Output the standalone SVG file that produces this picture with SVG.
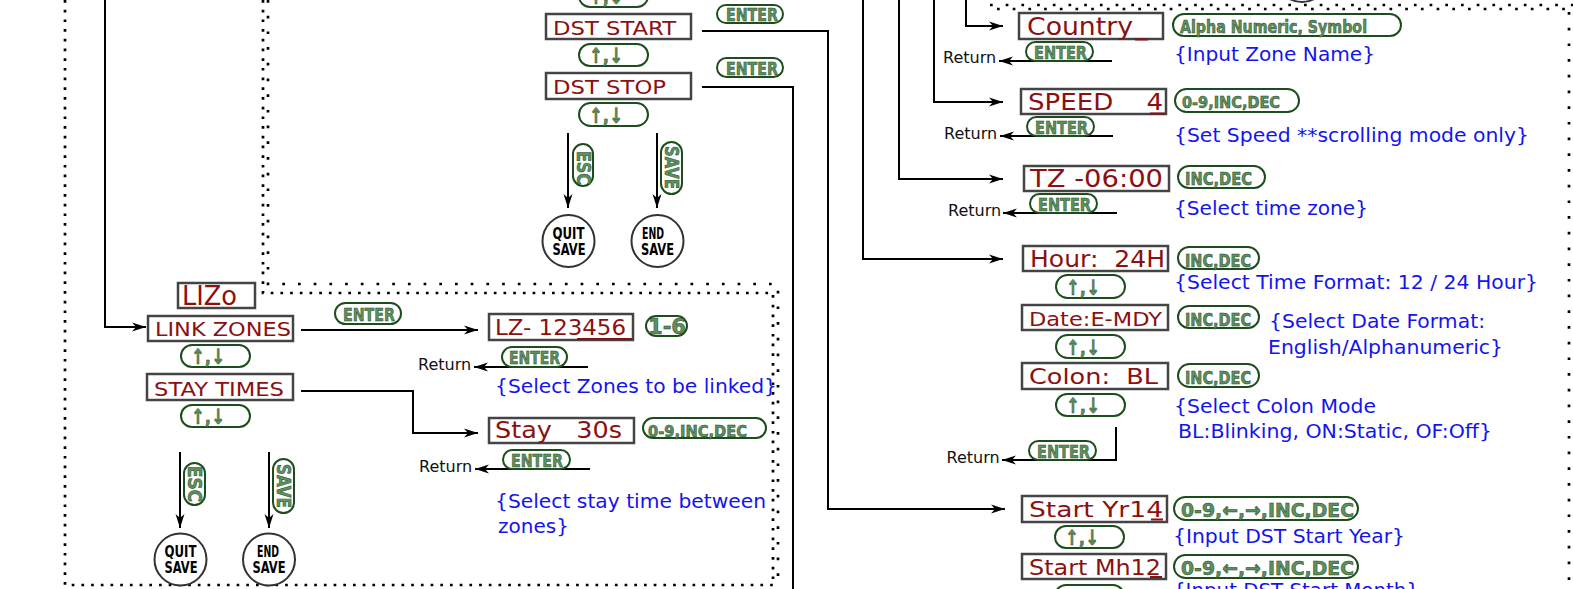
<svg xmlns="http://www.w3.org/2000/svg" width="1573" height="589" viewBox="0 0 1573 589">
<defs>
<style>
.box{fill:#fff;stroke:#444;stroke-width:2.5}
.bt{font-family:"DejaVu Sans",sans-serif;fill:#8b1010;white-space:pre}
.pill{fill:#fff;stroke:#1d4d1d;stroke-width:2}
.pt{font-family:"DejaVu Sans Condensed","DejaVu Sans",sans-serif;font-weight:bold;fill:#5f8f5f;stroke:#1a4a1a;stroke-width:0.5}
.ar{font-family:"DejaVu Sans",sans-serif;font-weight:bold;fill:#5f8f5f;stroke:#1a4a1a;stroke-width:0.5}
.bl{font-family:"DejaVu Sans",sans-serif;font-size:20px;fill:#1414ee}
.ret{font-family:"DejaVu Sans",sans-serif;font-size:16px;fill:#111}
.ln{fill:none;stroke:#000;stroke-width:2}
.circ{fill:#fff;stroke:#333;stroke-width:2}
.ct{font-family:"DejaVu Sans Condensed","DejaVu Sans",sans-serif;font-weight:bold;font-size:15px;fill:#000}
.dd{fill:none;stroke:#000;stroke-width:2.7;stroke-dasharray:2.7 7}
.ds{fill:none;stroke:#000;stroke-width:2.7;stroke-dasharray:2.7 13}
.cur{stroke:#8b1010;stroke-width:2}
</style>
<marker id="ah" markerWidth="14" markerHeight="10" refX="14" refY="5" orient="auto" markerUnits="userSpaceOnUse"><path d="M0,0.5 L14,5 L0,9.5 L4,5 z" fill="#000"/></marker>
</defs>
<rect width="1573" height="589" fill="#fff"/>

<g id="borders">
<path class="dd" d="M65,0 V585 H776"/>
<path class="dd" d="M263,0 V293 H773 V585"/>
<path class="ds" d="M268,0 V284 H778 V585"/>
<path class="ds" d="M990,5 H1573"/>
<path class="ds" d="M997,9 H1573"/>
<path class="ds" d="M1569,12 V589"/>
</g>

<g id="connectors">
<path class="ln" d="M105,0 V327 H146" marker-end="url(#ah)"/>
<path class="ln" d="M702,31 H828 V509 H1005" marker-end="url(#ah)"/>
<path class="ln" d="M702,87 H793 V589"/>
<path class="ln" d="M863,0 V259 H1003" marker-end="url(#ah)"/>
<path class="ln" d="M899,0 V179 H1003" marker-end="url(#ah)"/>
<path class="ln" d="M934,0 V102 H1003" marker-end="url(#ah)"/>
<path class="ln" d="M966,0 V26 H1003" marker-end="url(#ah)"/>
<path class="ln" d="M1112,61 H999" marker-end="url(#ah)"/>
<path class="ln" d="M1113,136 H1000" marker-end="url(#ah)"/>
<path class="ln" d="M1117,213 H1003" marker-end="url(#ah)"/>
<path class="ln" d="M1116,427 V460 H1002" marker-end="url(#ah)"/>
<path class="ln" d="M588,367 H474" marker-end="url(#ah)"/>
<path class="ln" d="M590,469 H475" marker-end="url(#ah)"/>
<path class="ln" d="M301,330 H478" marker-end="url(#ah)"/>
<path class="ln" d="M301,391 H413 V433 H478" marker-end="url(#ah)"/>
<path class="ln" d="M568,133 V208" marker-end="url(#ah)"/>
<path class="ln" d="M657,133 V208" marker-end="url(#ah)"/>
<path class="ln" d="M180,452 V528" marker-end="url(#ah)"/>
<path class="ln" d="M269,452 V528" marker-end="url(#ah)"/>
</g>

<g id="top-partials">
<circle class="circ" cx="1302" cy="-24" r="26"/>
<rect class="pill" x="579" y="-15" width="69" height="22" rx="11"/>
<text class="ar" x="589" y="4" font-size="21" textLength="34" lengthAdjust="spacingAndGlyphs">↑,↓</text>
</g>

<g id="dst-start">
<rect class="box" x="546" y="14" width="145" height="25"/>
<text class="bt" x="553" y="34.5" font-size="20" textLength="123" lengthAdjust="spacingAndGlyphs">DST START</text>
</g>
<g id="enter-dst-start"><rect class="pill" x="717" y="5" width="66" height="18" rx="9"/><text class="pt" x="726" y="21" font-size="18" textLength="52" lengthAdjust="spacingAndGlyphs">ENTER</text></g>
<g id="ud-1"><rect class="pill" x="579" y="44" width="69" height="22" rx="11"/><text class="ar" x="589" y="63" font-size="21" textLength="34" lengthAdjust="spacingAndGlyphs">↑,↓</text></g>
<g id="dst-stop">
<rect class="box" x="546" y="73" width="145" height="26"/>
<text class="bt" x="553" y="94.3" font-size="20" textLength="113" lengthAdjust="spacingAndGlyphs">DST STOP</text>
</g>
<g id="enter-dst-stop"><rect class="pill" x="717" y="58" width="66" height="19" rx="9.5"/><text class="pt" x="726" y="75" font-size="18" textLength="52" lengthAdjust="spacingAndGlyphs">ENTER</text></g>
<g id="ud-2"><rect class="pill" x="579" y="103" width="69" height="23" rx="11.5"/><text class="ar" x="589" y="123" font-size="21" textLength="34" lengthAdjust="spacingAndGlyphs">↑,↓</text></g>
<g id="esc-1"><rect class="pill" x="573" y="144" width="20" height="42" rx="10"/><text class="pt" transform="translate(583,151) rotate(90)" x="0" y="6.5" font-size="19" textLength="34" lengthAdjust="spacingAndGlyphs">ESC</text></g>
<g id="save-1"><rect class="pill" x="661" y="142" width="21" height="52" rx="10.5"/><text class="pt" transform="translate(671.5,146) rotate(90)" x="0" y="6.5" font-size="19" textLength="43" lengthAdjust="spacingAndGlyphs">SAVE</text></g>
<g id="quit-1"><circle class="circ" cx="568.5" cy="241" r="26"/><text class="ct" x="568.5" y="239" text-anchor="middle" textLength="32" lengthAdjust="spacingAndGlyphs">QUIT</text><text class="ct" x="569" y="255" text-anchor="middle" textLength="33" lengthAdjust="spacingAndGlyphs">SAVE</text></g>
<g id="end-1"><circle class="circ" cx="657.5" cy="241" r="26"/><text class="ct" x="653" y="239" text-anchor="middle" textLength="22" lengthAdjust="spacingAndGlyphs">END</text><text class="ct" x="657.5" y="255" text-anchor="middle" textLength="33" lengthAdjust="spacingAndGlyphs">SAVE</text></g>

<g id="lizo">
<rect class="box" x="178" y="283" width="77" height="25"/>
<text class="bt" x="182" y="305" font-size="27" textLength="55" lengthAdjust="spacingAndGlyphs">LIZo</text>
</g>
<g id="link-zones">
<rect class="box" x="148" y="316" width="145" height="25"/>
<text class="bt" x="155" y="336" font-size="20" textLength="136" lengthAdjust="spacingAndGlyphs">LINK ZONES</text>
</g>
<g id="enter-lz"><rect class="pill" x="335" y="303" width="66" height="21" rx="10.5"/><text class="pt" x="343" y="321" font-size="18" textLength="52" lengthAdjust="spacingAndGlyphs">ENTER</text></g>
<g id="ud-3"><rect class="pill" x="181" y="345" width="69" height="22" rx="11"/><text class="ar" x="191" y="364" font-size="21" textLength="34" lengthAdjust="spacingAndGlyphs">↑,↓</text></g>
<g id="stay-times">
<rect class="box" x="147" y="374" width="146" height="26"/>
<text class="bt" x="154" y="395.5" font-size="20" textLength="130" lengthAdjust="spacingAndGlyphs">STAY TIMES</text>
</g>
<g id="ud-4"><rect class="pill" x="181" y="405" width="69" height="22" rx="11"/><text class="ar" x="191" y="424" font-size="21" textLength="34" lengthAdjust="spacingAndGlyphs">↑,↓</text></g>
<g id="esc-2"><rect class="pill" x="184" y="463" width="21" height="42" rx="10.5"/><text class="pt" transform="translate(194.5,466) rotate(90)" x="0" y="6.5" font-size="19" textLength="36" lengthAdjust="spacingAndGlyphs">ESC</text></g>
<g id="save-2"><rect class="pill" x="273" y="459" width="21" height="54" rx="10.5"/><text class="pt" transform="translate(283.5,464) rotate(90)" x="0" y="6.5" font-size="19" textLength="44" lengthAdjust="spacingAndGlyphs">SAVE</text></g>
<g id="quit-2"><circle class="circ" cx="180.5" cy="559.5" r="26"/><text class="ct" x="180.5" y="557" text-anchor="middle" textLength="32" lengthAdjust="spacingAndGlyphs">QUIT</text><text class="ct" x="181" y="573" text-anchor="middle" textLength="33" lengthAdjust="spacingAndGlyphs">SAVE</text></g>
<g id="end-2"><circle class="circ" cx="269" cy="559.5" r="26"/><text class="ct" x="268" y="557" text-anchor="middle" textLength="22" lengthAdjust="spacingAndGlyphs">END</text><text class="ct" x="269" y="573" text-anchor="middle" textLength="33" lengthAdjust="spacingAndGlyphs">SAVE</text></g>

<g id="lz-123456">
<rect class="box" x="489" y="314" width="144" height="26"/>
<line class="cur" x1="577" y1="339" x2="632" y2="339"/>
<text class="bt" x="495" y="335" font-size="21" textLength="131" lengthAdjust="spacingAndGlyphs">LZ- 123456</text>
</g>
<g id="p-1-6"><rect class="pill" x="646" y="316" width="41" height="20" rx="10"/><text class="pt" x="648" y="334" font-size="21" textLength="38" lengthAdjust="spacingAndGlyphs">1-6</text></g>
<g id="ret-lz"><text class="ret" x="418" y="369.5">Return</text><rect class="pill" x="502" y="347" width="65" height="20" rx="10"/><text class="pt" x="509" y="364" font-size="18" textLength="51" lengthAdjust="spacingAndGlyphs">ENTER</text></g>
<g id="desc-lz"><text class="bl" x="495" y="393.3" textLength="282" lengthAdjust="spacingAndGlyphs">{Select Zones to be linked}</text></g>
<g id="stay-30s">
<rect class="box" x="489" y="418" width="145" height="25"/>
<text class="bt" x="495" y="438.3" font-size="23" textLength="127" lengthAdjust="spacingAndGlyphs">Stay   30s</text>
</g>
<g id="p-stay"><rect class="pill" x="643" y="418" width="123" height="20" rx="10"/><text class="pt" x="648" y="436.5" font-size="16" textLength="99" lengthAdjust="spacingAndGlyphs">0-9,INC,DEC</text></g>
<g id="ret-stay"><text class="ret" x="419" y="472.3">Return</text><rect class="pill" x="503" y="450" width="67" height="19" rx="9.5"/><text class="pt" x="511" y="467" font-size="18" textLength="52" lengthAdjust="spacingAndGlyphs">ENTER</text></g>
<g id="desc-stay"><text class="bl" x="495" y="508.3" textLength="271" lengthAdjust="spacingAndGlyphs">{Select stay time between</text><text class="bl" x="498" y="533.3">zones}</text></g>

<g id="country">
<rect class="box" x="1019" y="13" width="144" height="26"/>
<line class="cur" x1="1135" y1="39.5" x2="1148" y2="39.5"/>
<text class="bt" x="1027" y="35" font-size="25" textLength="106" lengthAdjust="spacingAndGlyphs">Country</text>
</g>
<g id="p-alpha"><rect class="pill" x="1173" y="14" width="228" height="22" rx="11"/><text class="pt" x="1180" y="33" font-size="17" textLength="187" lengthAdjust="spacingAndGlyphs">Alpha Numeric, Symbol</text></g>
<g id="ret-country"><text class="ret" x="943" y="63">Return</text><rect class="pill" x="1026" y="42" width="67" height="19" rx="9.5"/><text class="pt" x="1034" y="59" font-size="18" textLength="53" lengthAdjust="spacingAndGlyphs">ENTER</text></g>
<text class="bl" x="1174" y="61" textLength="201" lengthAdjust="spacingAndGlyphs">{Input Zone Name}</text>

<g id="speed">
<rect class="box" x="1021" y="89" width="145" height="25"/>
<line class="cur" x1="1150" y1="113.5" x2="1165" y2="113.5"/>
<text class="bt" x="1028" y="110" font-size="23" textLength="135" lengthAdjust="spacingAndGlyphs">SPEED    4</text>
</g>
<g id="p-speed"><rect class="pill" x="1175" y="89" width="124" height="23" rx="11.5"/><text class="pt" x="1182" y="108" font-size="16" textLength="98" lengthAdjust="spacingAndGlyphs">0-9,INC,DEC</text></g>
<g id="ret-speed"><text class="ret" x="944" y="139.3">Return</text><rect class="pill" x="1027" y="117" width="67" height="19" rx="9.5"/><text class="pt" x="1035" y="134" font-size="18" textLength="53" lengthAdjust="spacingAndGlyphs">ENTER</text></g>
<text class="bl" x="1174" y="141.7" textLength="355" lengthAdjust="spacingAndGlyphs">{Set Speed **scrolling mode only}</text>

<g id="tz">
<rect class="box" x="1024" y="166" width="145" height="25"/>
<text class="bt" x="1030" y="186.7" font-size="24" textLength="133" lengthAdjust="spacingAndGlyphs">TZ -06:00</text>
</g>
<g id="p-tz"><rect class="pill" x="1178" y="166" width="87" height="22" rx="11"/><text class="pt" x="1185" y="185" font-size="17" textLength="67" lengthAdjust="spacingAndGlyphs">INC,DEC</text></g>
<g id="ret-tz"><text class="ret" x="948" y="216">Return</text><rect class="pill" x="1030" y="194" width="67" height="19" rx="9.5"/><text class="pt" x="1038" y="211" font-size="18" textLength="53" lengthAdjust="spacingAndGlyphs">ENTER</text></g>
<text class="bl" x="1174" y="215" textLength="194" lengthAdjust="spacingAndGlyphs">{Select time zone}</text>

<g id="hour">
<rect class="box" x="1023" y="246" width="145" height="25"/>
<text class="bt" x="1030" y="266.7" font-size="23" textLength="135" lengthAdjust="spacingAndGlyphs">Hour:  24H</text>
</g>
<g id="p-hour"><rect class="pill" x="1178" y="247" width="81" height="22" rx="11"/><text class="pt" x="1185" y="266.5" font-size="17" textLength="66" lengthAdjust="spacingAndGlyphs">INC,DEC</text></g>
<text class="bl" x="1174" y="289.3" textLength="364" lengthAdjust="spacingAndGlyphs">{Select Time Format: 12 / 24 Hour}</text>
<g id="ud-5"><rect class="pill" x="1056" y="275" width="69" height="23" rx="11.5"/><text class="ar" x="1066" y="295" font-size="21" textLength="34" lengthAdjust="spacingAndGlyphs">↑,↓</text></g>

<g id="date">
<rect class="box" x="1022" y="305" width="146" height="25"/>
<text class="bt" x="1029" y="325.7" font-size="20" textLength="133" lengthAdjust="spacingAndGlyphs">Date:E-MDY</text>
</g>
<g id="p-date"><rect class="pill" x="1178" y="306" width="81" height="22" rx="11"/><text class="pt" x="1185" y="325.5" font-size="17" textLength="66" lengthAdjust="spacingAndGlyphs">INC,DEC</text></g>
<text class="bl" x="1269" y="328.3" textLength="216" lengthAdjust="spacingAndGlyphs">{Select Date Format:</text>
<text class="bl" x="1268" y="354" textLength="235" lengthAdjust="spacingAndGlyphs">English/Alphanumeric}</text>
<g id="ud-6"><rect class="pill" x="1056" y="335" width="69" height="23" rx="11.5"/><text class="ar" x="1066" y="355" font-size="21" textLength="34" lengthAdjust="spacingAndGlyphs">↑,↓</text></g>

<g id="colon">
<rect class="box" x="1022" y="363" width="146" height="26"/>
<text class="bt" x="1029" y="384.3" font-size="22" textLength="129" lengthAdjust="spacingAndGlyphs">Colon:  BL</text>
</g>
<g id="p-colon"><rect class="pill" x="1178" y="364" width="81" height="23" rx="11.5"/><text class="pt" x="1185" y="384" font-size="17" textLength="66" lengthAdjust="spacingAndGlyphs">INC,DEC</text></g>
<text class="bl" x="1174" y="412.7" textLength="202" lengthAdjust="spacingAndGlyphs">{Select Colon Mode</text>
<text class="bl" x="1178" y="438.3" textLength="314" lengthAdjust="spacingAndGlyphs">BL:Blinking, ON:Static, OF:Off}</text>
<g id="ud-7"><rect class="pill" x="1056" y="394" width="69" height="22" rx="11"/><text class="ar" x="1066" y="413" font-size="21" textLength="34" lengthAdjust="spacingAndGlyphs">↑,↓</text></g>
<g id="ret-colon"><text class="ret" x="946.5" y="463.3">Return</text><rect class="pill" x="1029" y="441" width="67" height="19" rx="9.5"/><text class="pt" x="1037" y="458" font-size="18" textLength="53" lengthAdjust="spacingAndGlyphs">ENTER</text></g>

<g id="start-yr">
<rect class="box" x="1022" y="496" width="145" height="26"/>
<line class="cur" x1="1151" y1="519.5" x2="1163" y2="519.5"/>
<text class="bt" x="1029" y="517" font-size="22" textLength="134" lengthAdjust="spacingAndGlyphs">Start Yr14</text>
</g>
<g id="p-yr"><rect class="pill" x="1174" y="497" width="184" height="23" rx="11.5"/><text class="pt" x="1181" y="517" font-size="20" textLength="173" lengthAdjust="spacingAndGlyphs">0-9,←,→,INC,DEC</text></g>
<text class="bl" x="1173" y="543.3" textLength="232" lengthAdjust="spacingAndGlyphs">{Input DST Start Year}</text>
<g id="ud-8"><rect class="pill" x="1055" y="526" width="69" height="22" rx="11"/><text class="ar" x="1065" y="545" font-size="21" textLength="34" lengthAdjust="spacingAndGlyphs">↑,↓</text></g>

<g id="start-mh">
<rect class="box" x="1022" y="554" width="144" height="25"/>
<line class="cur" x1="1150" y1="577" x2="1162" y2="577"/>
<text class="bt" x="1029" y="575" font-size="22" textLength="132" lengthAdjust="spacingAndGlyphs">Start Mh12</text>
</g>
<g id="p-mh"><rect class="pill" x="1174" y="555" width="184" height="23" rx="11.5"/><text class="pt" x="1181" y="575" font-size="20" textLength="173" lengthAdjust="spacingAndGlyphs">0-9,←,→,INC,DEC</text></g>
<text class="bl" x="1173" y="597" textLength="246" lengthAdjust="spacingAndGlyphs">{Input DST Start Month}</text>
<g id="ud-9"><rect class="pill" x="1055" y="585" width="69" height="22" rx="11"/></g>
</svg>
